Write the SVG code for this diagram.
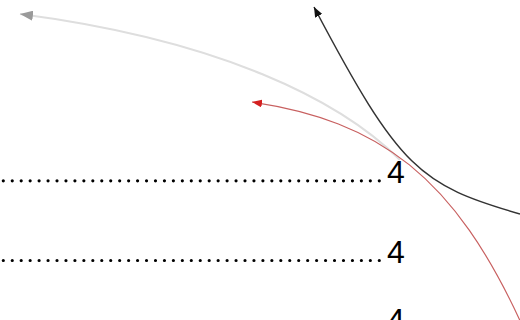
<svg xmlns="http://www.w3.org/2000/svg" width="520" height="320" viewBox="0 0 520 320">
<style>
.leader{stroke:#000;stroke-width:3.2;stroke-linecap:round;stroke-dasharray:0 8.952;fill:none}
.num{font-family:"Liberation Sans",Arial,sans-serif;font-size:32px;fill:#000}
.c{fill:none}
</style>
<defs>
<marker id="aGray" markerUnits="userSpaceOnUse" markerWidth="14" markerHeight="10" refX="13" refY="5" orient="auto"><path d="M0,0 L13,5 L0,10 Z" fill="#9a9a9a"/></marker>
<marker id="aBlack" markerUnits="userSpaceOnUse" markerWidth="11" markerHeight="8" refX="10" refY="4" orient="auto"><path d="M0,0 L10,4 L0,8 Z" fill="#111"/></marker>
<marker id="aRed" markerUnits="userSpaceOnUse" markerWidth="11" markerHeight="8" refX="10" refY="4" orient="auto"><path d="M0,0 L10,4 L0,8 Z" fill="#d42020"/></marker>
</defs>
<rect width="520" height="320" fill="#fff"/>
<g id="entry1"><line class="leader" x1="3.3" y1="180.8" x2="379.3" y2="180.8"/><text class="num" x="387" y="183">4</text></g>
<g id="entry2"><line class="leader" x1="3.3" y1="260.5" x2="379.3" y2="260.5"/><text class="num" x="387" y="263">4</text></g>
<g id="entry3"><line class="leader" x1="3.3" y1="329" x2="379.3" y2="329"/><text class="num" x="387" y="331">4</text></g>
<g id="connectors">
<path class="c" d="M400,160 C340,100 220,40 20,14" stroke="#dedede" stroke-width="2" marker-end="url(#aGray)"/>
<path class="c" d="M522,325 C454.5,176.5 379.3,120.9 252,102" stroke="#c86060" stroke-width="1.2" marker-end="url(#aRed)"/>
<path class="c" d="M520,214 C420,185 400,170 314,7" stroke="#333" stroke-width="1.5" marker-end="url(#aBlack)"/>
</g>
</svg>
